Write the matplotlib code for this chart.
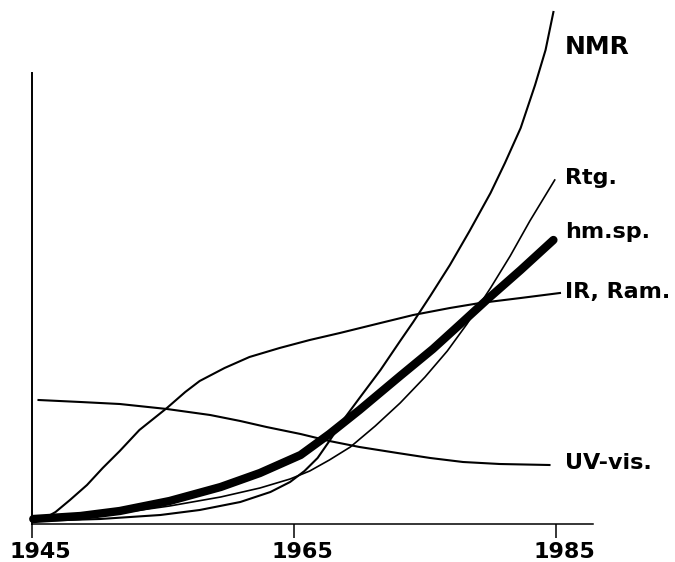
import matplotlib
matplotlib.use("Agg")
import matplotlib.pyplot as plt
from matplotlib.transforms import ScaledTranslation

# curves: year, relative height
ir_years = [1945.0, 1946.0, 1946.8, 1947.9, 1949.2, 1950.4, 1951.7, 1953.2, 1955.3, 1956.7, 1957.8,
            1959.7, 1961.6, 1963.9, 1966.2, 1968.5, 1971.6, 1974.1, 1976.9, 1979.2, 1982.3, 1985.3]
ir_vals = [0.1, 0.4, 1.0, 2.2, 3.7, 5.4, 7.1, 9.2, 11.4, 13.0, 14.1,
           15.4, 16.5, 17.4, 18.2, 18.9, 19.9, 20.7, 21.4, 21.9, 22.4, 22.9]

uv_years = [1945.5, 1948.7, 1951.7, 1955.3, 1958.6, 1960.9, 1962.9, 1965.5, 1967.7, 1970.0,
            1972.9, 1975.4, 1977.9, 1980.7, 1984.5]
uv_vals = [12.2, 12.0, 11.8, 11.3, 10.7, 10.1, 9.5, 8.8, 8.1, 7.5,
           6.9, 6.4, 6.0, 5.8, 5.7]

hm_years = [1945.1, 1948.7, 1951.7, 1955.5, 1959.4, 1962.4, 1965.5, 1967.7, 1970.0, 1973.1,
            1975.6, 1977.7, 1979.7, 1982.3, 1984.8]
hm_vals = [0.3, 0.6, 1.1, 2.1, 3.5, 4.9, 6.7, 8.8, 11.2, 14.6,
           17.3, 19.8, 22.2, 25.2, 28.2]

rtg_years = [1945.1, 1948.7, 1951.7, 1955.5, 1959.4, 1962.4, 1964.7, 1966.2, 1967.7, 1969.3,
             1971.2, 1973.1, 1975.0, 1976.7, 1978.2, 1980.0, 1981.5, 1983.0, 1984.9]
rtg_vals = [0.2, 0.4, 0.9, 1.6, 2.5, 3.4, 4.3, 5.1, 6.2, 7.5,
            9.6, 11.9, 14.5, 17.1, 19.8, 23.4, 26.6, 30.1, 34.2]

nmr_years = [1945.1, 1950.2, 1954.8, 1957.8, 1960.9, 1963.2, 1964.7, 1965.8, 1966.8, 1967.7,
             1968.7, 1970.0, 1971.6, 1973.1, 1974.1, 1975.4, 1976.9, 1978.4, 1980.0, 1981.1,
             1982.3, 1983.4, 1984.2, 1984.8]
nmr_vals = [0.1, 0.3, 0.7, 1.2, 2.0, 3.0, 4.0, 5.1, 6.4, 8.1,
            10.1, 12.4, 15.2, 18.1, 20.0, 22.6, 25.7, 29.1, 32.9, 35.9,
            39.4, 43.7, 47.2, 51.0]

labels = ["NMR", "Rtg.", "hm.sp.", "IR, Ram.", "UV-vis."]
label_vals = [47.5, 34.4, 29.0, 23.0, 5.9]
tick_years = [1945, 1965, 1985]

fig = plt.figure(figsize=(6.75, 5.62), dpi=100)
ax = fig.add_axes([0, 0, 1, 1])
ax.set_xlim(1942.56, 1994.08)
ax.set_ylim(-4.0, 52.2)

thin = 1.5
ax.plot(ir_years, ir_vals, color="black", lw=thin)
ax.plot(uv_years, uv_vals, color="black", lw=thin)
ax.plot(rtg_years, rtg_vals, color="black", lw=thin * 0.8)
ax.plot(nmr_years, nmr_vals, color="black", lw=thin)
ax.plot(hm_years, hm_vals, color="black", lw=6, solid_capstyle="round", solid_joinstyle="round")

for name, v in zip(labels, label_vals):
    size = 18 if name == "NMR" else 16
    ax.text(1985.7, v, name, fontsize=size, fontweight="bold", ha="left", va="center")

for s in ["top", "right"]:
    ax.spines[s].set_visible(False)
ax.spines["left"].set_position(("data", 1945))
ax.spines["bottom"].set_position(("data", -0.2))
ax.spines["left"].set_bounds(-0.2, 44.9)
ax.spines["bottom"].set_bounds(1945, 1987.8)
ax.spines["left"].set_linewidth(1.4)
ax.spines["bottom"].set_linewidth(1.1)
ax.set_yticks([])
ax.set_xticks(tick_years)
ax.set_xticklabels([str(t) for t in tick_years], fontsize=16, fontweight="bold")
ax.tick_params(axis="x", direction="out", length=10, width=1.1, pad=3)
# labels in the scan sit a little right of their ticks
shift = ScaledTranslation(6 / 72, 0, fig.dpi_scale_trans)
for lab in ax.get_xticklabels():
    lab.set_transform(lab.get_transform() + shift)
ax.patch.set_alpha(0)

fig.savefig("out.png", dpi=100)
